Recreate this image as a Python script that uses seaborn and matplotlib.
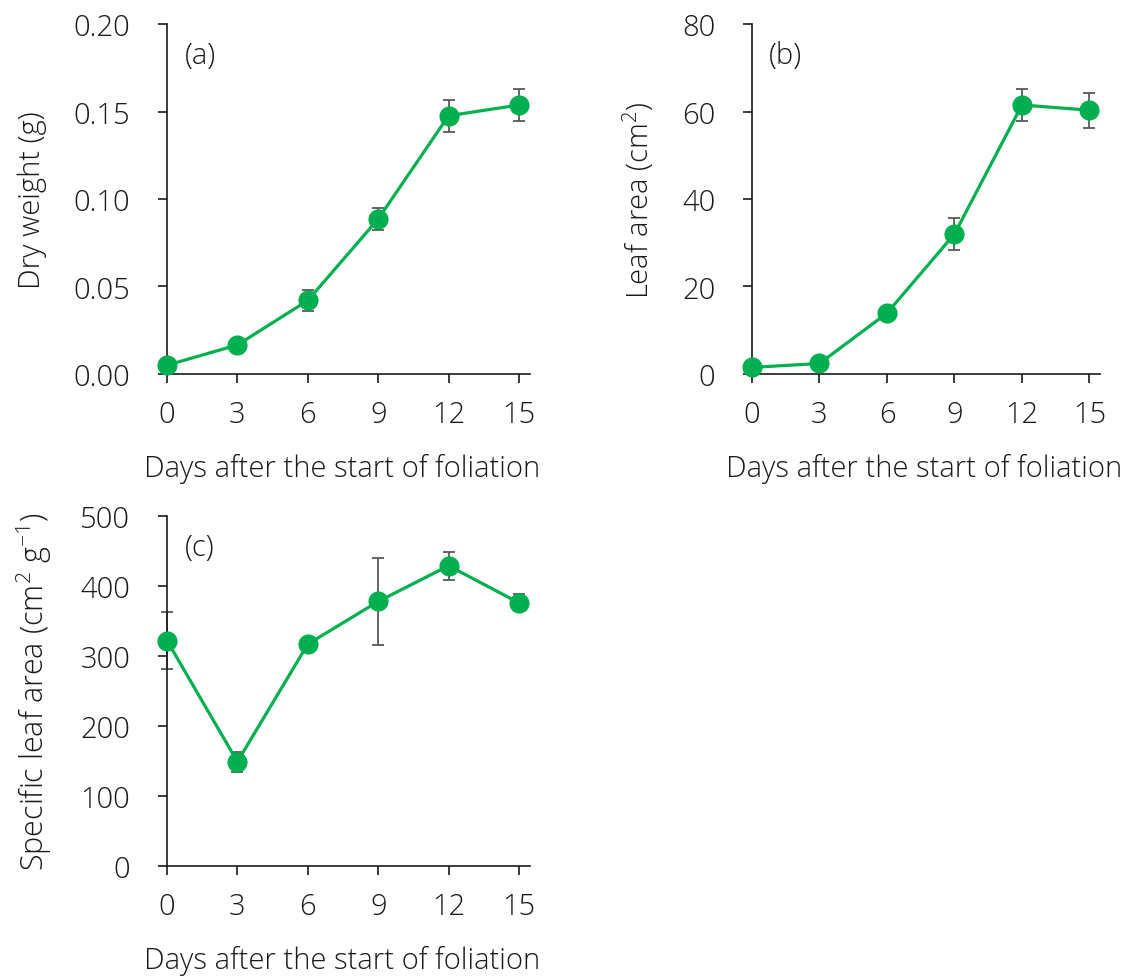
import numpy as np
import pandas as pd
import matplotlib
matplotlib.use("Agg")
import matplotlib.pyplot as plt
import seaborn as sns

# ---- data ----
days = [0, 3, 6, 9, 12, 15]
dry_weight = [0.005, 0.0166, 0.042, 0.0886, 0.1476, 0.1537]
dry_weight_err = [0.0, 0.0, 0.006, 0.0065, 0.0092, 0.009]
leaf_area = [1.5, 2.4, 13.9, 32.0, 61.5, 60.3]
leaf_area_err = [0.0, 0.0, 0.0, 3.7, 3.7, 4.0]
sla = [322, 149, 317, 378, 429, 376]
sla_err = [41, 14, 0, 62, 20, 12]

x_ticks = [0, 3, 6, 9, 12, 15]
xlabel = "Days after the start of foliation"

sns.set_theme(style="ticks")
plt.rcParams['font.family'] = ['Open Sans', 'DejaVu Sans']
plt.rcParams['font.weight'] = 'light'
plt.rcParams['mathtext.fontset'] = 'custom'
plt.rcParams['mathtext.rm'] = 'Open Sans:light'
plt.rcParams['mathtext.default'] = 'regular'

GREEN = "#00B050"
GREY = "#595959"
TXT = "#1a1a1a"
FS = 21

fig = plt.figure(figsize=(11.31, 9.78), dpi=100)
ax_a = fig.add_axes([0.1477, 0.6166, 0.3209, 0.3578])
ax_b = fig.add_axes([0.6649, 0.6166, 0.3077, 0.3578])
ax_c = fig.add_axes([0.1477, 0.1135, 0.3209, 0.3578])

panels = [
    (ax_a, dry_weight, dry_weight_err, (0, 0.20), [0.0, 0.05, 0.10, 0.15, 0.20], "{:.2f}", "Dry weight (g)", "(a)", 0.482, 21),
    (ax_b, leaf_area, leaf_area_err, (0, 80), [0, 20, 40, 60, 80], "{:.0f}", "Leaf area (cm$^{2}$)", "(b)", 0.494, 21),
    (ax_c, sla, sla_err, (0, 500), [0, 100, 200, 300, 400, 500], "{:.0f}", "Specific leaf area (cm$^{2}$ g$^{-1}$)", "(c)", 0.482, 22),
]

for ax, vals, errs, ylim, yticks, fmt, ylabel, tag, xl_x, yl_fs in panels:
    df = pd.DataFrame({"day": days, "val": vals})
    ax.errorbar(days, vals, yerr=errs, fmt='none', ecolor=GREY, elinewidth=1.3,
                capsize=4, capthick=1.3, zorder=2, clip_on=False)
    sns.lineplot(data=df, x="day", y="val", ax=ax, color=GREEN, linewidth=2.3,
                 marker='o', markersize=14.5, markeredgewidth=0, markerfacecolor=GREEN,
                 zorder=3, clip_on=False)
    for ln in ax.lines:
        ln.set_clip_on(False)
    ax.set_xlim(0, 15.47)
    ax.set_ylim(*ylim)
    ax.set_xticks(x_ticks)
    ax.set_xticklabels([str(t) for t in x_ticks], fontsize=FS, fontweight='light')
    ax.set_yticks(yticks)
    ax.set_yticklabels([fmt.format(t) for t in yticks], fontsize=FS, fontweight='light')
    ax.tick_params(axis='y', direction='out', length=6.5, width=1.2, pad=20, colors=TXT)
    ax.tick_params(axis='x', direction='out', length=6.5, width=1.2, pad=12, colors=TXT)
    sns.despine(ax=ax)
    for s in ['left', 'bottom']:
        ax.spines[s].set_linewidth(1.2)
        ax.spines[s].set_color(TXT)
    ax.set_xlabel(xlabel, fontsize=FS, labelpad=17, color=TXT, fontweight='light')
    ax.xaxis.label.set_x(xl_x)
    ax.set_ylabel(ylabel, fontsize=yl_fs, labelpad=19, color=TXT, fontweight='light')
    ax.text(0.048, 0.91, tag, transform=ax.transAxes, fontsize=FS, ha='left', va='center',
            color=TXT, fontweight='light')

fig.savefig("out.png", dpi=100)
